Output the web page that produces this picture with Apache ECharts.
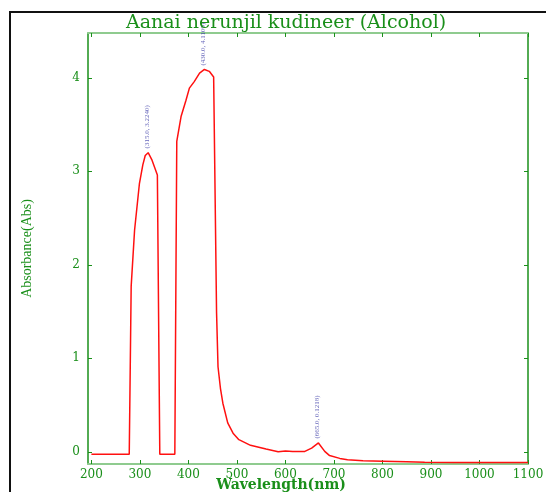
<!DOCTYPE html>
<html>
<head>
<meta charset="utf-8">
<title>Aanai nerunjil kudineer (Alcohol)</title>
<script src="https://cdn.jsdelivr.net/npm/echarts@6/dist/echarts.min.js"></script>
<style>
  html, body { margin: 0; padding: 0; background: #fff; }
  #main { width: 546px; height: 492px; }
</style>
</head>
<body>
<div id="main"></div>
<script>
// spectrum (nm, Abs)
const wavelength = [200, 278, 282, 289, 299, 306, 311, 317, 325, 336, 338, 341, 372, 376,
  385, 395, 402, 412, 423, 433, 443, 452, 455, 458, 461, 466, 471, 481, 492, 504,
  528, 560, 585, 600, 615, 640, 654, 668, 681, 691, 712, 728, 760, 801, 850, 887,
  950, 1000, 1050, 1100];
const absorbance = [-0.025, -0.025, 1.77, 2.37, 2.87, 3.07, 3.17, 3.20, 3.12, 2.96, 2.95, -0.025, -0.025, 3.32,
  3.59, 3.76, 3.89, 3.96, 4.05, 4.09, 4.07, 4.01, 4.0, 1.49, 0.91, 0.68, 0.52, 0.31, 0.20, 0.13,
  0.07, 0.03, 0.0, 0.01, 0.005, 0.005, 0.04, 0.095, 0.005, -0.04, -0.07, -0.085, -0.095, -0.10, -0.105, -0.11,
  -0.115, -0.115, -0.115, -0.115];

// peak annotations
const peakX = [315, 430, 665];
const peakY = [3.224, 4.1109, 0.1218];
const peakText = ["(315.0, 3.2240)", "(430.0, 4.1109)", "(665.0, 0.1218)"];

const xTicks = [200, 300, 400, 500, 600, 700, 800, 900, 1000, 1100];
const yTicks = [0, 1, 2, 3, 4];

const green = "#1a8f1a";
const lightGreen = "#8fcb8f";
const serif = "DejaVu Serif";

var myChart = echarts.init(document.getElementById("main"));

var option = {
  animation: false,
  backgroundColor: "#fff",
  title: {
    text: "Aanai nerunjil kudineer (Alcohol)",
    left: 121,
    top: 9,
    textStyle: { fontFamily: serif, fontSize: 19, fontWeight: "normal", color: green },
  },
  graphic: [
    {
      type: "rect",
      shape: { x: 10, y: 12, width: 560, height: 520 },
      style: { fill: "none", stroke: "#111", lineWidth: 2 },
      z: 0,
    },
  ],
  grid: { left: 88, right: 18, top: 33, bottom: 28, outerBoundsMode: "none", containLabel: false },
  xAxis: [
    {
      type: "value",
      min: 193,
      max: 1100,
      name: "Wavelength(nm)",
      nameLocation: "middle",
      nameGap: 14,
      nameMoveOverlap: false,
      nameTextStyle: { fontFamily: serif, fontSize: 14, fontWeight: "bold", color: green, padding: [0, 54, 0, 0] },
      axisLine: { onZero: false, lineStyle: { color: lightGreen, width: 2 } },
      axisTick: { inside: true, length: 4, customValues: xTicks, lineStyle: { color: green } },
      axisLabel: { customValues: xTicks, formatter: (v) => String(v), fontFamily: serif, fontSize: 12, color: green, margin: 5 },
      splitLine: { show: false },
    },
    {
      type: "value",
      position: "top",
      min: 193,
      max: 1100,
      axisLine: { show: true, onZero: false, lineStyle: { color: lightGreen, width: 2 } },
      axisTick: { inside: true, length: 4, customValues: xTicks, lineStyle: { color: green } },
      axisLabel: { show: false },
      splitLine: { show: false },
    },
  ],
  yAxis: [
    {
      type: "value",
      min: -0.13,
      max: 4.48,
      name: "Absorbance(Abs)",
      nameLocation: "middle",
      nameGap: 54,
      nameMoveOverlap: false,
      nameTextStyle: { fontFamily: "Liberation Serif", fontSize: 14, color: green },
      axisLine: { show: true, onZero: false, lineStyle: { color: green, width: 1.5 } },
      axisTick: { inside: true, length: 4, customValues: yTicks, lineStyle: { color: green } },
      axisLabel: { customValues: yTicks, fontFamily: serif, fontSize: 12, color: green, margin: 8 },
      splitLine: { show: false },
    },
    {
      type: "value",
      position: "right",
      min: -0.13,
      max: 4.48,
      axisLine: { show: true, onZero: false, lineStyle: { color: green, width: 1.5 } },
      axisTick: { inside: true, length: 4, customValues: yTicks, lineStyle: { color: green } },
      axisLabel: { show: false },
      splitLine: { show: false },
    },
  ],
  series: [
    {
      name: "Abs",
      type: "line",
      data: wavelength.map((x, i) => [x, absorbance[i]]),
      showSymbol: false,
      lineStyle: { color: "#ff1010", width: 1.5 },
      z: 3,
    },
    {
      name: "peaks",
      type: "scatter",
      symbolSize: 0,
      data: peakX.map((x, i) => [x, peakY[i]]),
      label: {
        show: true,
        formatter: (p) => peakText[p.dataIndex],
        position: "top",
        distance: 2,
        rotate: 90,
        align: "left",
        verticalAlign: "middle",
        fontFamily: "Liberation Serif",
        fontSize: 7,
        color: "#3c3ca8",
      },
      z: 4,
    },
  ],
};

myChart.setOption(option);
</script>
</body>
</html>
